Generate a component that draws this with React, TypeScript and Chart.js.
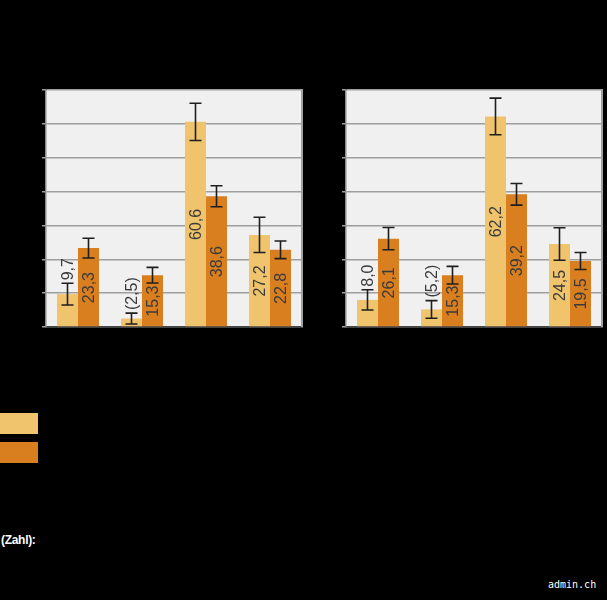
import { useEffect, useRef } from 'react';
import { Chart, registerables } from 'chart.js';

Chart.register(...registerables);

// category and series names are not legible in the reference (black on transparent)
const categories = ['Kategorie 1', 'Kategorie 2', 'Kategorie 3', 'Kategorie 4'];
const seriesNames = ['Gruppe A', 'Gruppe B'];

// left panel
const leftYellow = [9.7, 2.5, 60.6, 27.2];
const leftYellowErr = [3.2, 1.6, 5.5, 5.2];
const leftYellowParen = [false, true, false, false];
const leftOrange = [23.3, 15.3, 38.6, 22.8];
const leftOrangeErr = [2.9, 2.3, 3.1, 2.6];
const leftOrangeParen = [false, false, false, false];

// right panel
const rightYellow = [8.0, 5.2, 62.2, 24.5];
const rightYellowErr = [3.0, 2.6, 5.4, 4.8];
const rightYellowParen = [false, true, false, false];
const rightOrange = [26.1, 15.3, 39.2, 19.5];
const rightOrangeErr = [3.3, 2.6, 3.2, 2.5];
const rightOrangeParen = [false, false, false, false];

const yMax = 70;
const yStep = 10;

const YELLOW = '#efc46c';
const ORANGE = '#d97f1f';

const fmt = (v: number, paren: boolean) => {
  const s = v.toFixed(1).replace('.', ',');
  return paren ? `(${s})` : s;
};

// plot background, right frame line, error bars and rotated value labels
const panelPlugin = {
  id: 'panelDecor',
  beforeDraw(chart: any) {
    const { ctx, chartArea } = chart;
    const { left, top, right, bottom } = chartArea;
    ctx.save();
    ctx.fillStyle = '#f0f0f0';
    ctx.fillRect(left, top, right - left, bottom - top);
    ctx.restore();
  },
  afterDatasetsDraw(chart: any) {
    const { ctx } = chart;
    const yScale = chart.scales.y;
    ctx.save();
    chart.data.datasets.forEach((ds: any, i: number) => {
      const meta = chart.getDatasetMeta(i);
      meta.data.forEach((bar: any, j: number) => {
        const v = ds.data[j];
        const e = ds.errors[j];
        const x = bar.x;
        const yHi = yScale.getPixelForValue(v + e);
        const yLo = yScale.getPixelForValue(v - e);

        ctx.strokeStyle = '#1e1e1e';
        ctx.lineWidth = 1.6;
        ctx.beginPath();
        ctx.moveTo(x, yHi);
        ctx.lineTo(x, yLo);
        ctx.moveTo(x - 6, yHi);
        ctx.lineTo(x + 6, yHi);
        ctx.moveTo(x - 6, yLo);
        ctx.lineTo(x + 6, yLo);
        ctx.stroke();

        const text = fmt(v, ds.paren[j]);
        ctx.font = '16px "Liberation Sans", Arial, sans-serif';
        ctx.fillStyle = '#3a3a3a';
        ctx.textBaseline = 'middle';
        ctx.save();
        if (v < 10) {
          ctx.translate(x, yHi - 3);
          ctx.rotate(-Math.PI / 2);
          ctx.textAlign = 'left';
          ctx.fillText(text, 0, 1);
        } else {
          const base = yScale.getPixelForValue(0);
          const yTop = yScale.getPixelForValue(v);
          ctx.translate(x, (base + yTop) / 2);
          ctx.rotate(-Math.PI / 2);
          ctx.textAlign = 'center';
          ctx.fillText(text, 0, 1);
        }
        ctx.restore();
      });
    });
    ctx.restore();
  },
  afterDraw(chart: any) {
    const { ctx, chartArea } = chart;
    ctx.save();
    ctx.strokeStyle = '#a0a0a0';
    ctx.lineWidth = 2;
    ctx.beginPath();
    ctx.moveTo(chartArea.right, chartArea.top - 1);
    ctx.lineTo(chartArea.right, chartArea.bottom);
    ctx.stroke();
    ctx.restore();
  },
};

interface PanelProps {
  left: number;
  yellow: number[];
  yellowErr: number[];
  yellowParen: boolean[];
  orange: number[];
  orangeErr: number[];
  orangeParen: boolean[];
}

function BarPanel({ left, yellow, yellowErr, yellowParen, orange, orangeErr, orangeParen }: PanelProps) {
  const canvasRef = useRef<HTMLCanvasElement>(null);
  const chartRef = useRef<Chart | null>(null);

  useEffect(() => {
    if (!canvasRef.current) return;
    if (chartRef.current) chartRef.current.destroy();

    chartRef.current = new Chart(canvasRef.current, {
      type: 'bar',
      data: {
        labels: categories,
        datasets: [
          {
            label: seriesNames[0],
            data: yellow,
            errors: yellowErr,
            paren: yellowParen,
            backgroundColor: YELLOW,
            borderWidth: 0,
            categoryPercentage: 42 / 64,
            barPercentage: 1,
          } as any,
          {
            label: seriesNames[1],
            data: orange,
            errors: orangeErr,
            paren: orangeParen,
            backgroundColor: ORANGE,
            borderWidth: 0,
            categoryPercentage: 42 / 64,
            barPercentage: 1,
          } as any,
        ],
      },
      options: {
        animation: false,
        responsive: false,
        maintainAspectRatio: false,
        layout: { padding: { top: 90, right: 5, left: 0, bottom: 0 } },
        plugins: {
          legend: { display: false },
          tooltip: { enabled: false },
        },
        scales: {
          x: {
            grid: { display: false },
            border: { display: true, color: '#444444', width: 2 },
            ticks: { display: false },
            afterFit: (scale: any) => {
              scale.height = 13;
            },
          },
          y: {
            min: 0,
            max: yMax,
            ticks: { display: false, stepSize: yStep },
            grid: {
              color: '#9e9e9e',
              lineWidth: 1.5,
              drawTicks: true,
              tickLength: 4,
            },
            border: { display: true, color: '#8a8a8a', width: 1.5 },
            afterFit: (scale: any) => {
              scale.width = 46;
            },
          },
        },
      },
      plugins: [panelPlugin],
    });

    return () => {
      if (chartRef.current) {
        chartRef.current.destroy();
        chartRef.current = null;
      }
    };
  }, [yellow, orange]);

  return (
    <div style={{ position: 'absolute', left, top: 0, width: 307, height: 340 }}>
      <canvas ref={canvasRef} width={307} height={340} style={{ display: 'block', width: 307, height: 340 }} />
    </div>
  );
}

export default function App() {
  return (
    <div
      style={{
        position: 'fixed',
        left: 0,
        top: 0,
        width: 607,
        height: 600,
        background: '#000000',
        overflow: 'hidden',
      }}
    >
      <BarPanel
        left={0}
        yellow={leftYellow}
        yellowErr={leftYellowErr}
        yellowParen={leftYellowParen}
        orange={leftOrange}
        orangeErr={leftOrangeErr}
        orangeParen={leftOrangeParen}
      />
      <BarPanel
        left={300}
        yellow={rightYellow}
        yellowErr={rightYellowErr}
        yellowParen={rightYellowParen}
        orange={rightOrange}
        orangeErr={rightOrangeErr}
        orangeParen={rightOrangeParen}
      />

      {/* legend swatches (legend text is black on black in the reference) */}
      <div style={{ position: 'absolute', left: 0, top: 413, width: 38, height: 21, background: YELLOW }} />
      <div style={{ position: 'absolute', left: 0, top: 442, width: 38, height: 21, background: ORANGE }} />

      <div
        style={{
          position: 'absolute',
          left: 1,
          top: 533,
          color: '#ffffff',
          fontFamily: '"Liberation Sans", Arial, sans-serif',
          fontWeight: 'bold',
          fontSize: 12,
          letterSpacing: -0.3,
          lineHeight: '15px',
        }}
      >
        (Zahl):
      </div>

      <div
        style={{
          position: 'absolute',
          left: 548,
          top: 578,
          color: '#ffffff',
          fontFamily: '"DejaVu Sans Mono", monospace',
          fontSize: 10,
          lineHeight: '14px',
        }}
      >
        admin.ch
      </div>
    </div>
  );
}
